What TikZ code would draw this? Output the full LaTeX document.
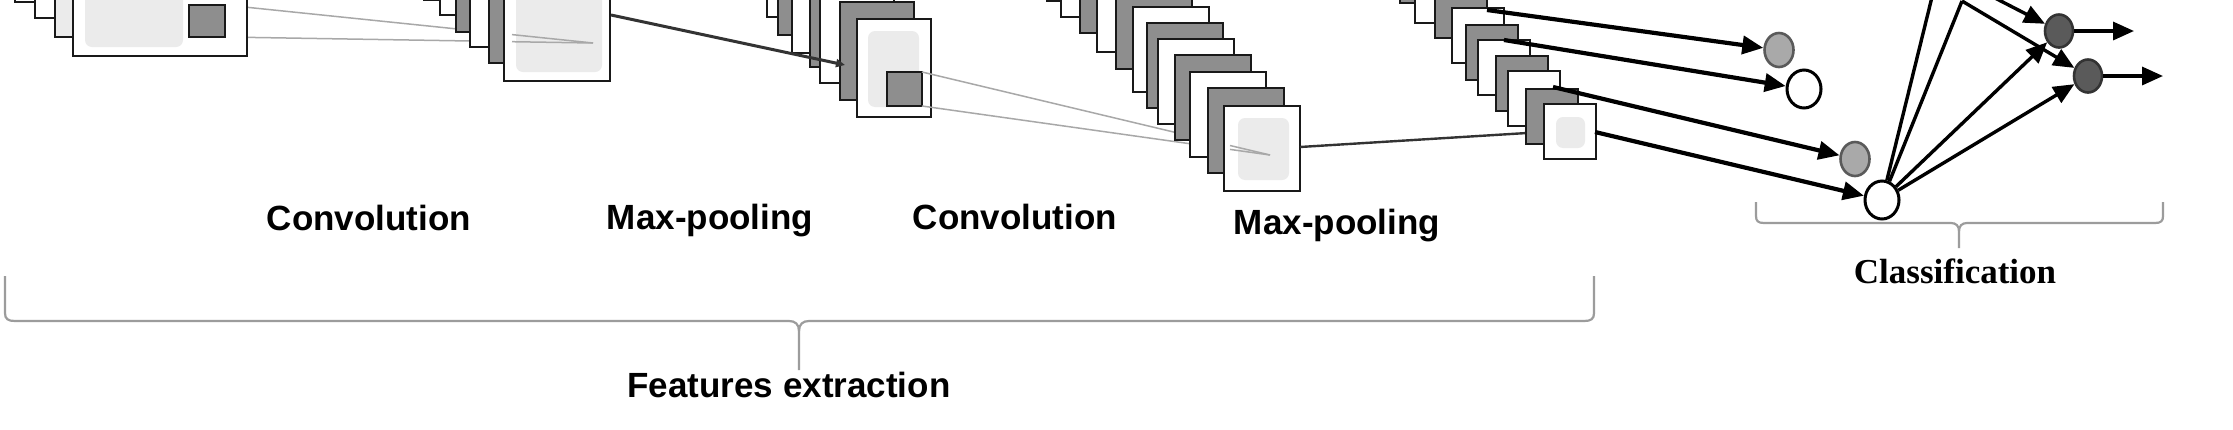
\documentclass[tikz,border=0pt]{standalone}
\usepackage{fontspec}
\setmainfont{Liberation Sans}
\newfontfamily\clsfont{Liberation Serif}
\usetikzlibrary{arrows.meta,shapes.geometric,calc}
\definecolor{dk}{HTML}{8E8E8E}
\definecolor{lt}{HTML}{EBEBEB}
\definecolor{cg}{HTML}{A9A9A9}
\definecolor{co}{HTML}{5A5A5A}
\definecolor{br}{HTML}{9C9C9C}
\definecolor{ln}{HTML}{A8A8A8}
\newcommand{\fmap}[5]{\draw[fmapbox, fill=#1] (#2,#3-#5) rectangle ++(#4,#5);}
\begin{document}
\begin{tikzpicture}[x=1pt,y=-1pt,
  fmapbox/.style={draw=black!90, line width=2.7pt},
  innerbg/.style={fill=lt, rounded corners=7pt},
  darksq/.style={draw=black!90, line width=2.7pt, fill=dk},
  faint/.style={draw=ln, line width=1.5pt},
  link/.style={draw=black!80, line width=3pt},
  bigarr/.style={draw=black, line width=4.2pt, -{Triangle[length=21pt,width=18pt]}},
  cline/.style={draw=black, line width=3.4pt},
  carr/.style={draw=black, line width=3.4pt, -{Triangle[length=21pt,width=18pt]}},
  gneuron/.style={ellipse, minimum width=29pt, minimum height=34pt, inner sep=0pt, fill=cg, draw=co, line width=2.6pt},
  wneuron/.style={ellipse, minimum width=34pt, minimum height=38pt, inner sep=0pt, fill=white, draw=black, line width=3pt},
  oneuron/.style={ellipse, minimum width=28pt, minimum height=33pt, inner sep=0pt, fill=co, draw=black!80, line width=2.6pt},
  lab/.style={font=\fontsize{35}{40}\selectfont\bfseries, inner sep=0pt, anchor=base},
  clab/.style={font=\clsfont\fontsize{35}{40}\selectfont\bfseries, inner sep=0pt, anchor=base},
  bracestyle/.style={draw=br, line width=2.2pt}]
\useasboundingbox (0,0) rectangle (2233,429);
\fill[white] (0,0) rectangle (2233,429);
\clip (0,0) rectangle (2233,429);

% ---- connector end points
\coordinate (qa1) at (225,5);
\coordinate (qa2) at (225,37);
\coordinate (qe) at (593,43);
\coordinate (qa1o) at (512,34.6);
\coordinate (qa2o) at (512,41.7);
\coordinate (ra1) at (922,72);
\coordinate (ra2) at (922,106);
\coordinate (re) at (1270,155);
\coordinate (ra1o) at (1230,145.5);
\coordinate (ra2o) at (1230,149.4);
\coordinate (l2a) at (611,15);
\coordinate (l2b) at (845,65);
\coordinate (l4a) at (1300,147);
\coordinate (l4b) at (1527,133);
\coordinate (s1) at (1487,10);
\coordinate (s2) at (1504,40);
\coordinate (s3) at (1553,87);
\coordinate (s4) at (1595,132);
\coordinate (top1) at (1932,-3);
\coordinate (apex) at (1962,1);
\coordinate (top3) at (1993,-3);
\coordinate (o5) at (2134,31);
\coordinate (o6) at (2163,76);

% ---- faint lines, stack 1 -> stack 2
\draw[faint] (qa1) -- (qe);
\draw[faint] (qa2) -- (qe);

% ---- stack 1
\fmap{white}{15}{2}{174}{150}
\fmap{white}{35}{18}{174}{150}
\fmap{lt}{55}{37}{174}{150}
\fmap{white}{73}{56}{174}{150}
\fill[innerbg] (85,-60) rectangle (183,47);
\draw[darksq] (189,5) rectangle (225,37);

% ---- stack 2
\fmap{dk}{424}{0}{106}{130}
\fmap{white}{440}{15}{106}{130}
\fmap{dk}{456}{32}{106}{130}
\fmap{white}{470}{47}{106}{130}
\fmap{dk}{489}{63}{106}{130}
\fmap{white}{504}{81}{106}{130}
\fill[innerbg] (516,-40) rectangle (602,72);
\draw[faint] (qa1o) -- (qe);
\draw[faint] (qa2o) -- (qe);

% ---- stack 3
\fmap{white}{767}{17}{74}{98}
\fmap{dk}{778}{35}{74}{98}
\fmap{white}{792}{53}{74}{98}
\fmap{dk}{810}{67}{74}{98}
\fmap{white}{820}{83}{74}{98}
\fmap{dk}{840}{100}{74}{98}
\fmap{white}{857}{117}{74}{98}
\fill[innerbg] (868,31) rectangle (919,107);
\draw[darksq] (887,72) rectangle (922,106);
\draw[link, -{Triangle[length=9pt,width=8pt]}] (l2a) -- (l2b);

% ---- faint lines, stack 3 -> stack 4
\draw[faint] (ra1) -- (re);
\draw[faint] (ra2) -- (re);

% ---- stack 4
\fmap{dk}{1047}{1}{76}{85}
\fmap{white}{1061}{17}{76}{85}
\fmap{dk}{1080}{33}{76}{85}
\fmap{white}{1097}{52}{76}{85}
\fmap{dk}{1116}{69}{76}{85}
\fmap{white}{1133}{92}{76}{85}
\fmap{dk}{1147}{108}{76}{85}
\fmap{white}{1158}{124}{76}{85}
\fmap{dk}{1175}{140}{76}{85}
\fmap{white}{1190}{157}{76}{85}
\fmap{dk}{1208}{173}{76}{85}
\fmap{white}{1224}{191}{76}{85}
\fill[innerbg] (1238,118) rectangle (1289,180);
\draw[faint] (ra1o) -- (re);
\draw[faint] (ra2o) -- (re);

\draw[link, line width=2.4pt] (l4a) -- (l4b);

% ---- stack 5
\fmap{dk}{1400}{3}{52}{55}
\fmap{white}{1415}{23}{52}{55}
\fmap{dk}{1435}{38}{52}{55}
\fmap{white}{1452}{63}{52}{55}
\fmap{dk}{1466}{80}{52}{55}
\fmap{white}{1478}{95}{52}{55}
\fmap{dk}{1496}{111}{52}{55}
\fmap{white}{1508}{126}{52}{55}
\fmap{dk}{1526}{144}{52}{55}
\fmap{white}{1544}{159}{52}{55}
\fill[innerbg] (1556,117) rectangle (1585,148);

% ---- neurons
\node[gneuron] (c1) at (1779,50) {};
\node[wneuron] (c2) at (1804,89) {};
\node[gneuron] (c3) at (1855,159) {};
\node[wneuron] (c4) at (1882,200) {};
\node[oneuron] (c5) at (2059,31) {};
\node[oneuron] (c6) at (2088,76) {};

\draw[bigarr] (s1) -- (c1);
\draw[bigarr] (s2) -- (c2);
\draw[bigarr] (s3) -- (c3);
\draw[bigarr] (s4) -- (c4);

\draw[cline] (c4) -- (top1);
\draw[cline] (c4) -- (apex);
\draw[carr] (apex) -- (c6);
\draw[carr] (top3) -- (c5);
\draw[carr] (c4) -- (c5);
\draw[carr] (c4) -- (c6);
\draw[carr] (c5) -- (o5);
\draw[carr] (c6) -- (o6);

% ---- braces
\draw[bracestyle] (5,276) -- (5,313) .. controls (5,319) and (8,321) .. (15,321) -- (789,321) .. controls (795,321) and (799,324) .. (799,331) -- (799,370);
\draw[bracestyle] (1594,276) -- (1594,313) .. controls (1594,319) and (1591,321) .. (1584,321) -- (809,321) .. controls (803,321) and (799,324) .. (799,331);
\draw[bracestyle] (1756,202) -- (1756,216) .. controls (1756,221) and (1758,223) .. (1764,223) -- (1951,223) .. controls (1956,223) and (1959,226) .. (1959,231) -- (1959,248);
\draw[bracestyle] (2163,202) -- (2163,216) .. controls (2163,221) and (2161,223) .. (2155,223) -- (1967,223) .. controls (1962,223) and (1959,226) .. (1959,231);

% ---- labels
\node[lab] (conv1) at (369,230) {Convolution};
\node[lab] (pool1) at (710,229) {Max-pooling};
\node[lab] (conv2) at (1015,229) {Convolution};
\node[lab] (pool2) at (1337,234) {Max-pooling};
\node[lab] (feat) at (789,397) {Features extraction};
\node[clab] (cls) at (1955,283) {Classification};
\end{tikzpicture}
\end{document}
